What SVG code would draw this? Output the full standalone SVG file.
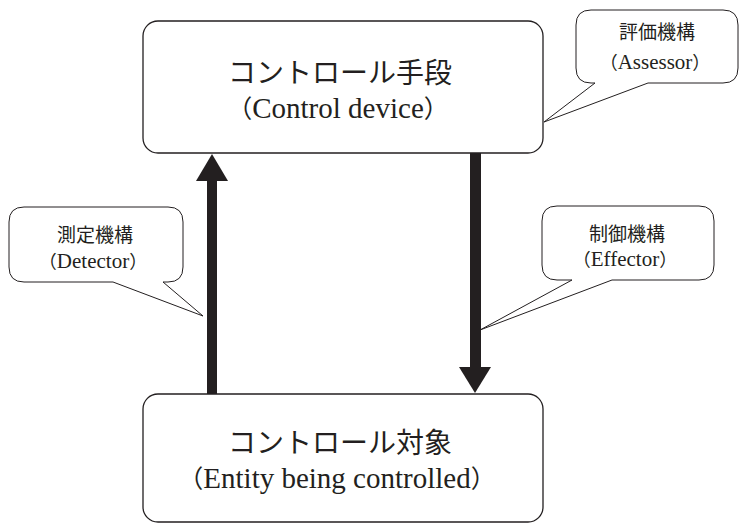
<svg xmlns="http://www.w3.org/2000/svg" width="739" height="524" viewBox="0 0 739 524">
  <style>
    .box { fill: #fff; stroke: #231f20; stroke-width: 1.3; }
    .bubble { fill: #fff; stroke: #231f20; stroke-width: 1; stroke-linejoin: miter; }
    .jp { font-family: "Noto Sans CJK JP", "Noto Sans", sans-serif; fill: #231f20; text-anchor: middle; }
    .en { font-family: "Liberation Serif", "DejaVu Serif", serif; fill: #231f20; text-anchor: middle; }
    .par { font-family: "Noto Sans CJK JP", sans-serif; }
    .shaft { fill: #231f20; }
  </style>

  <!-- controller -->
  <g id="control-device">
    <rect class="box" x="143" y="21" width="400" height="132" rx="15" ry="15"/>
    <text class="jp" x="340" y="83" font-size="28">コントロール手段</text>
    <text class="en" x="338" y="118" font-size="29"><tspan class="par" font-size="25">（</tspan>Control device<tspan class="par" font-size="25">）</tspan></text>
  </g>

  <!-- controlled entity -->
  <g id="controlled-entity">
    <rect class="box" x="143" y="394" width="400" height="128" rx="15" ry="15"/>
    <text class="jp" x="340" y="453" font-size="28">コントロール対象</text>
    <text class="en" x="337" y="488" font-size="29"><tspan class="par" font-size="25">（</tspan>Entity being controlled<tspan class="par" font-size="25">）</tspan></text>
  </g>

  <!-- feedback and action paths -->
  <g id="connectors">
    <rect class="shaft" x="207" y="180" width="10" height="214"/>
    <polygon class="shaft" points="212,154 228,181 196,181"/>
    <rect class="shaft" x="470" y="153" width="11" height="215"/>
    <polygon class="shaft" points="459,367 491,367 475,393"/>
  </g>

  <!-- speech-bubble labels -->
  <g id="assessor">
    <path class="bubble" d="M591,10 H723 Q738,10 738,25 V68 Q738,83 723,83 H648 L544,122 L595,83 H591 Q576,83 576,68 V25 Q576,10 591,10 Z"/>
    <text class="jp" x="657" y="39" font-size="19">評価機構</text>
    <text class="en" x="655" y="69" font-size="21"><tspan class="par" font-size="18">（</tspan>Assessor<tspan class="par" font-size="18">）</tspan></text>
  </g>

  <g id="detector">
    <path class="bubble" d="M24,207 H168 Q183,207 183,222 V267 Q183,282 168,282 H163 L203,316 L113,282 H24 Q9,282 9,267 V222 Q9,207 24,207 Z"/>
    <text class="jp" x="95" y="242" font-size="19">測定機構</text>
    <text class="en" x="93" y="268" font-size="21"><tspan class="par" font-size="18">（</tspan>Detector<tspan class="par" font-size="18">）</tspan></text>
  </g>

  <g id="effector">
    <path class="bubble" d="M557,206 H699 Q714,206 714,221 V265 Q714,280 699,280 H612 L480,330 L572,280 H557 Q542,280 542,265 V221 Q542,206 557,206 Z"/>
    <text class="jp" x="627" y="241" font-size="19">制御機構</text>
    <text class="en" x="625" y="266" font-size="21"><tspan class="par" font-size="18">（</tspan>Effector<tspan class="par" font-size="18">）</tspan></text>
  </g>
</svg>
